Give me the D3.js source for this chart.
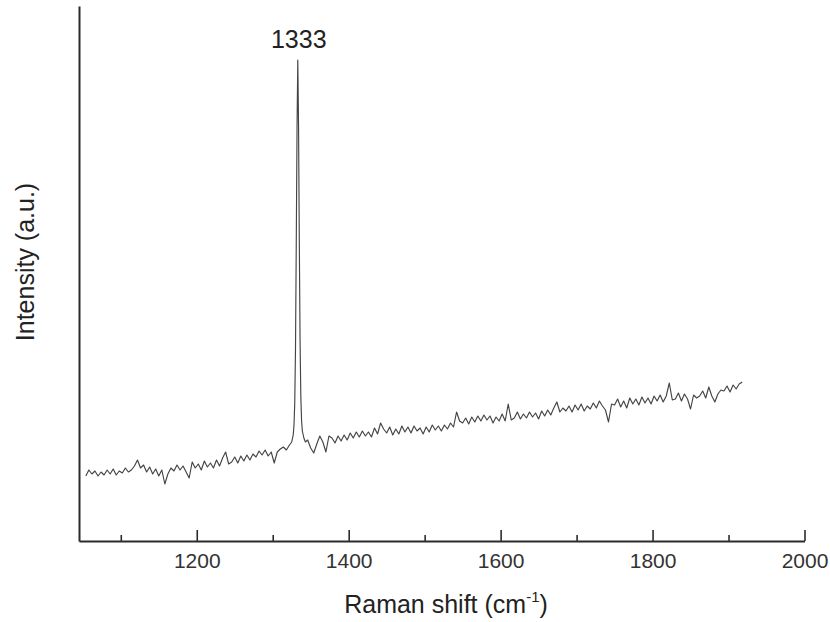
<!DOCTYPE html>
<html>
<head>
<meta charset="utf-8">
<script src="https://cdn.jsdelivr.net/npm/d3@7"></script>
<style>
  body { margin: 0; background: #fff; }
  text { font-family: "Liberation Sans", Arial, sans-serif; }
</style>
</head>
<body>
<div id="raman_chart"></div>
<script>
// Raman shift (cm-1) of each sampled point
const ramanShift = [
  1054, 1058, 1062, 1066, 1070, 1074, 1078, 1082, 1086, 1090, 1094, 1098, 1102, 1106, 1110, 1114,
  1118, 1122, 1126, 1130, 1134, 1138, 1142, 1146, 1150, 1154, 1158, 1162, 1166, 1170, 1174, 1178,
  1182, 1186, 1190, 1194, 1198, 1202, 1206, 1210, 1214, 1218, 1222, 1226, 1230, 1234, 1238, 1242,
  1246, 1250, 1254, 1258, 1262, 1266, 1270, 1274, 1278, 1282, 1286, 1290, 1294, 1298, 1302, 1306,
  1310, 1314, 1318, 1322,
  1325, 1327, 1328, 1329, 1330, 1331, 1332, 1333, 1334, 1335, 1336, 1337, 1338, 1339, 1341, 1343,
  1346, 1350, 1354, 1358, 1362, 1366, 1370, 1374, 1378, 1382, 1386, 1390, 1394, 1398, 1402, 1406,
  1410, 1414, 1418, 1422, 1426, 1430, 1434, 1438, 1442, 1446, 1450, 1454, 1458, 1462, 1466, 1470,
  1474, 1478, 1482, 1486, 1490, 1494, 1498, 1502, 1506, 1510, 1514, 1518, 1522, 1526, 1530, 1534,
  1538, 1542, 1546, 1550, 1554, 1558, 1562, 1566, 1570, 1574, 1578, 1582, 1586, 1590, 1594, 1598,
  1602, 1606, 1610, 1614, 1618, 1622, 1626, 1630, 1634, 1638, 1642, 1646, 1650, 1654, 1658, 1662,
  1666, 1670, 1674, 1678, 1682, 1686, 1690, 1694, 1698, 1702, 1706, 1710, 1714, 1718, 1722, 1726,
  1730, 1734, 1738, 1742, 1746, 1750, 1754, 1758, 1762, 1766, 1770, 1774, 1778, 1782, 1786, 1790,
  1794, 1798, 1802, 1806, 1810, 1814, 1818, 1822, 1826, 1830, 1834, 1838, 1842, 1846, 1850, 1854,
  1858, 1862, 1866, 1870, 1874, 1878, 1882, 1886, 1890, 1894, 1898, 1902, 1906, 1910, 1914, 1918
]

// intensity (a.u.)
const intensity = [
  65, 71, 67, 70, 65, 69, 66, 71, 67, 72, 66, 70, 68, 73, 69, 71,
  75, 81, 73, 76, 69, 74, 67, 72, 65, 71, 57, 67, 73, 70, 76, 71,
  75, 69, 63, 79, 73, 77, 71, 80, 74, 78, 73, 81, 75, 83, 89, 77,
  79, 84, 78, 85, 80, 86, 81, 87, 84, 90, 86, 91, 85, 89, 78, 89,
  92, 94, 91, 96,
  99, 106, 116, 138, 193, 298, 413, 481, 415, 300, 200, 145, 120, 110, 103, 99,
  101, 93, 88, 97, 105, 99, 89, 105, 103, 98, 105, 100, 106, 101, 108, 103,
  109, 104, 110, 105, 109, 104, 113, 107, 118, 112, 108, 114, 106, 112, 107, 115,
  109, 114, 108, 115, 110, 113, 107, 114, 109, 116, 111, 115, 110, 116, 112, 118,
  114, 129, 120, 118, 123, 117, 124, 119, 125, 120, 126, 121, 125, 118, 124, 120,
  127, 120, 137, 121, 123, 129, 122, 127, 123, 129, 124, 128, 122, 130, 125, 131,
  126, 133, 139, 129, 133, 130, 135, 129, 136, 131, 137, 130, 135, 132, 138, 133,
  140, 135, 131, 119, 137, 136, 142, 134, 140, 133, 143, 137, 142, 136, 144, 138,
  143, 137, 145, 140, 146, 139, 145, 158, 141, 142, 148, 140, 147, 142, 132, 146,
  143, 145, 150, 143, 154, 145, 139, 147, 151, 150, 155, 149, 156, 152, 157, 159
]

const peakLabel = "1333"
const majorTicks = [1200, 1400, 1600, 1800, 2000]
const minorTicks = [1100, 1300, 1500, 1700, 1900]

// chart dimensions
const widthRaman = 830
const heightRaman = 622
const marginRaman = { top: 6, left: 79, right: 25.5, bottom: 81 }

var RamanChart = d3.select("#raman_chart")
  .append("svg")
    .attr("width", widthRaman)
    .attr("height", heightRaman)

const points = ramanShift.map((v, i) => ({ shift: v, value: intensity[i] }))

// scales
const x = d3.scaleLinear()
    .domain([1045, 2000])
    .range([marginRaman.left, widthRaman - marginRaman.right])

const y = d3.scaleLinear()
    .domain([0, 535])
    .range([heightRaman - marginRaman.bottom, marginRaman.top])

const axisColor = "#2b2b2b"
const axisY = heightRaman - marginRaman.bottom

// minor ticks (no labels)
RamanChart.append("g")
    .attr("transform", `translate(0,${axisY})`)
    .call(d3.axisBottom(x)
        .tickValues(minorTicks)
        .tickSizeInner(-6)
        .tickSizeOuter(0)
        .tickFormat(""))
    .call(g => g.select(".domain").remove())
    .selectAll("line")
        .attr("stroke", axisColor)
        .attr("stroke-width", 1.6)

// x axis with major ticks
RamanChart.append("g")
    .attr("transform", `translate(0,${axisY})`)
    .call(d3.axisBottom(x)
        .tickValues(majorTicks)
        .tickSizeInner(-11)
        .tickSizeOuter(0)
        .tickPadding(12)
        .tickFormat(d3.format("d")))
    .call(g => g.select(".domain").attr("stroke", axisColor).attr("stroke-width", 2))
    .call(g => g.selectAll(".tick line").attr("stroke", axisColor).attr("stroke-width", 1.6))
    .selectAll("text")
        .attr("fill", "#333")
        .style("font-size", "21px")
        .style("font-family", "Liberation Sans, Arial, sans-serif")

// y axis: only the line
RamanChart.append("g")
    .attr("transform", `translate(${marginRaman.left},0)`)
    .call(d3.axisLeft(y).tickValues([]).tickSizeOuter(0))
    .select(".domain")
        .attr("stroke", axisColor)
        .attr("stroke-width", 2)

// spectrum
RamanChart.append("path")
    .datum(points)
    .attr("fill", "none")
    .attr("stroke", "#444")
    .attr("stroke-width", 1.15)
    .attr("stroke-linejoin", "round")
    .attr("d", d3.line()
        .x(d => x(d.shift))
        .y(d => y(d.value)))

// peak annotation
const peak = points.reduce((a, b) => (b.value > a.value ? b : a))
RamanChart.append("text")
    .attr("x", x(peak.shift) + 1)
    .attr("y", y(peak.value) - 12)
    .attr("text-anchor", "middle")
    .attr("fill", "#222")
    .style("font-size", "25px")
    .text(peakLabel)

// axis titles
const xTitle = RamanChart.append("text")
    .attr("x", 446)
    .attr("y", 613)
    .attr("text-anchor", "middle")
    .attr("fill", "#222")
    .style("font-size", "25px")
xTitle.append("tspan").text("Raman shift (cm")
xTitle.append("tspan").attr("dy", -11).style("font-size", "15px").text("-1")
xTitle.append("tspan").attr("dy", 11).text(")")

RamanChart.append("text")
    .attr("transform", "translate(34,262) rotate(-90)")
    .attr("text-anchor", "middle")
    .attr("fill", "#222")
    .style("font-size", "25px")
    .text("Intensity (a.u.)")
</script>
</body>
</html>
